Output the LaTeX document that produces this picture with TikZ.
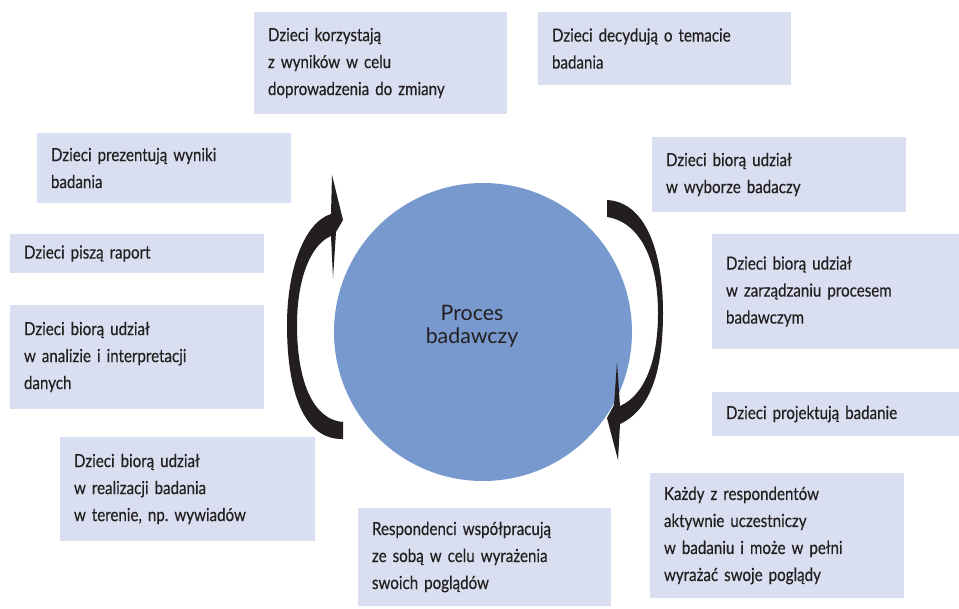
\documentclass[tikz,border=0pt]{standalone}
\usepackage{fontspec}
\setmainfont{Lato}
\newfontfamily\narrowfont[FakeStretch=0.84, FakeBold=0.35]{Lato}
\usetikzlibrary{positioning}
\definecolor{boxfill}{RGB}{217,223,240}
\definecolor{circlefill}{RGB}{120,153,206}
\definecolor{inkdark}{RGB}{35,31,32}
\tikzset{
    stagebox/.style={rectangle, fill=boxfill, draw=none, inner xsep=10.5pt, inner ysep=0pt, align=left, text=inkdark, font=\narrowfont\fontsize{13.5}{20.25}\selectfont},
    core/.style={circle, fill=circlefill, draw=none, minimum size=223.5pt, inner sep=0pt},
    cyclearrow/.style={fill=inkdark, draw=none},
}
\begin{document}
\begin{tikzpicture}[x=0.75pt, y=-0.75pt]
    \useasboundingbox (0,0) rectangle (959,608);
    % centre
    \node[core] (proces) at (483,332) {};
    \node[align=center, text=inkdark, font=\fontsize{16}{17.5}\selectfont] (procestxt) at (472,326) {Proces\\badawczy};
    % stages
    \node[stagebox, minimum width=189.75pt, minimum height=76.5pt, text width=168.75pt] (zmiana) at (380.5,63) {Dzieci korzystają\\z wyników w celu\\doprowadzenia do zmiany};
    \node[stagebox, minimum width=189.75pt, minimum height=54.75pt, text width=168.75pt] (temat) at (664.5,48.5) {Dzieci decydują o temacie\\badania};
    \node[stagebox, minimum width=190.5pt, minimum height=56.25pt, text width=169.5pt] (wybor) at (779,174.5) {Dzieci biorą udział\\w wyborze badaczy};
    \node[stagebox, minimum width=185.25pt, minimum height=86.25pt, text width=164.25pt] (zarzadzanie) at (835.5,291.5) {Dzieci biorą udział\\w zarządzaniu procesem\\badawczym};
    \node[stagebox, minimum width=185.25pt, minimum height=33pt, text width=164.25pt] (projekt) at (835.5,414) {Dzieci projektują badanie};
    \node[stagebox, minimum width=190.5pt, minimum height=93.75pt, text width=169.5pt] (kazdy) at (777,535.5) {Każdy z respondentów\\aktywnie uczestniczy\\w badaniu i może w pełni\\wyrażać swoje poglądy};
    \node[stagebox, minimum width=189.75pt, minimum height=73.5pt, text width=168.75pt] (respondenci) at (484.5,557) {Respondenci współpracują\\ze sobą w celu wyrażenia\\swoich poglądów};
    \node[stagebox, minimum width=191.25pt, minimum height=78pt, text width=170.25pt] (realizacja) at (187.5,489) {Dzieci biorą udział\\w realizacji badania\\w terenie, np.\ wywiadów};
    \node[stagebox, minimum width=190.5pt, minimum height=78pt, text width=169.5pt] (analiza) at (137,357) {Dzieci biorą udział\\w analizie i interpretacji\\danych};
    \node[stagebox, minimum width=190.5pt, minimum height=29.25pt, text width=169.5pt] (raport) at (137,253.5) {Dzieci piszą raport};
    \node[stagebox, minimum width=190.5pt, minimum height=52.5pt, text width=169.5pt] (prezentacja) at (164,168) {Dzieci prezentują wyniki\\badania};
    % cycle arrows
    \fill[cyclearrow] (332,175) -- (343,220) -- (336,232) -- (333,278) -- (331,236)
        .. controls (310,245) and (297,280) .. (297,325)
        .. controls (297,385) and (315,420) .. (343,422) -- (343,439)
        .. controls (303,440) and (287,390) .. (287,325)
        .. controls (287,268) and (305,222) .. (331,214) -- cycle;
    \fill[cyclearrow] (618,460) -- (607,418) -- (614,405) -- (617,362) -- (620,406)
        .. controls (645,395) and (658,360) .. (658,313)
        .. controls (658,260) and (640,222) .. (607,217) -- (607,200)
        .. controls (645,202) and (663,250) .. (663,313)
        .. controls (663,372) and (650,410) .. (620,424) -- cycle;
\end{tikzpicture}
\end{document}
